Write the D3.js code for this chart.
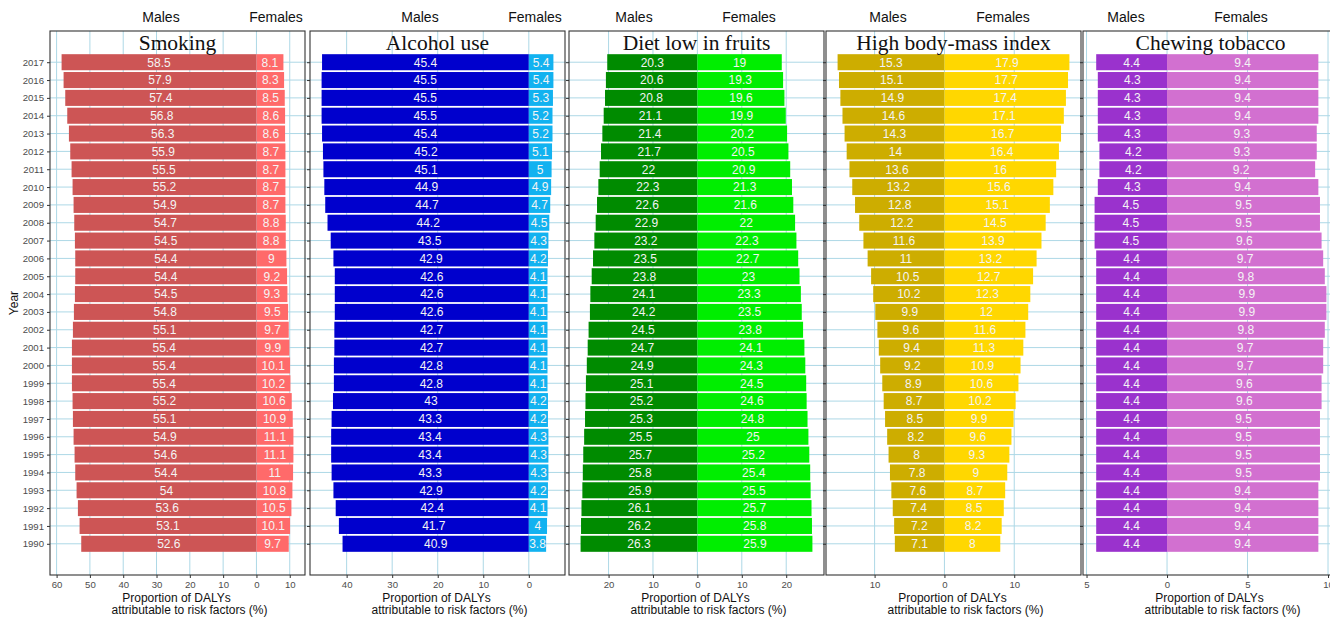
<!DOCTYPE html>
<html>
<head>
<meta charset="utf-8">
<script src="https://cdn.jsdelivr.net/npm/d3@7"></script>
<style>
  body { margin: 0; background: #fff; }
  svg { display: block; font-family: "Liberation Sans", Arial, sans-serif; }
</style>
</head>
<body>
<div id="chart"></div>
<script>
// years, top to bottom
const years = [2017, 2016, 2015, 2014, 2013, 2012, 2011, 2010, 2009, 2008, 2007, 2006, 2005, 2004,
  2003, 2002, 2001, 2000, 1999, 1998, 1997, 1996, 1995, 1994, 1993, 1992, 1991, 1990];

const riskNames = ["Smoking", "Alcohol use", "Diet low in fruits", "High body-mass index", "Chewing tobacco"];

const smokingMales = [58.5, 57.9, 57.4, 56.8, 56.3, 55.9, 55.5, 55.2, 54.9, 54.7, 54.5, 54.4, 54.4, 54.5,
  54.8, 55.1, 55.4, 55.4, 55.4, 55.2, 55.1, 54.9, 54.6, 54.4, 54, 53.6, 53.1, 52.6];
const smokingFemales = [8.1, 8.3, 8.5, 8.6, 8.6, 8.7, 8.7, 8.7, 8.7, 8.8, 8.8, 9, 9.2, 9.3,
  9.5, 9.7, 9.9, 10.1, 10.2, 10.6, 10.9, 11.1, 11.1, 11, 10.8, 10.5, 10.1, 9.7];

const alcoholMales = [45.4, 45.5, 45.5, 45.5, 45.4, 45.2, 45.1, 44.9, 44.7, 44.2, 43.5, 42.9, 42.6, 42.6,
  42.6, 42.7, 42.7, 42.8, 42.8, 43, 43.3, 43.4, 43.4, 43.3, 42.9, 42.4, 41.7, 40.9];
const alcoholFemales = [5.4, 5.4, 5.3, 5.2, 5.2, 5.1, 5, 4.9, 4.7, 4.5, 4.3, 4.2, 4.1, 4.1,
  4.1, 4.1, 4.1, 4.1, 4.1, 4.2, 4.2, 4.3, 4.3, 4.3, 4.2, 4.1, 4, 3.8];

const dietMales = [20.3, 20.6, 20.8, 21.1, 21.4, 21.7, 22, 22.3, 22.6, 22.9, 23.2, 23.5, 23.8, 24.1,
  24.2, 24.5, 24.7, 24.9, 25.1, 25.2, 25.3, 25.5, 25.7, 25.8, 25.9, 26.1, 26.2, 26.3];
const dietFemales = [19, 19.3, 19.6, 19.9, 20.2, 20.5, 20.9, 21.3, 21.6, 22, 22.3, 22.7, 23, 23.3,
  23.5, 23.8, 24.1, 24.3, 24.5, 24.6, 24.8, 25, 25.2, 25.4, 25.5, 25.7, 25.8, 25.9];

const bmiMales = [15.3, 15.1, 14.9, 14.6, 14.3, 14, 13.6, 13.2, 12.8, 12.2, 11.6, 11, 10.5, 10.2,
  9.9, 9.6, 9.4, 9.2, 8.9, 8.7, 8.5, 8.2, 8, 7.8, 7.6, 7.4, 7.2, 7.1];
const bmiFemales = [17.9, 17.7, 17.4, 17.1, 16.7, 16.4, 16, 15.6, 15.1, 14.5, 13.9, 13.2, 12.7, 12.3,
  12, 11.6, 11.3, 10.9, 10.6, 10.2, 9.9, 9.6, 9.3, 9, 8.7, 8.5, 8.2, 8];

const chewingMales = [4.4, 4.3, 4.3, 4.3, 4.3, 4.2, 4.2, 4.3, 4.5, 4.5, 4.5, 4.4, 4.4, 4.4,
  4.4, 4.4, 4.4, 4.4, 4.4, 4.4, 4.4, 4.4, 4.4, 4.4, 4.4, 4.4, 4.4, 4.4];
const chewingFemales = [9.4, 9.4, 9.4, 9.4, 9.3, 9.3, 9.2, 9.4, 9.5, 9.5, 9.6, 9.7, 9.8, 9.9,
  9.9, 9.8, 9.7, 9.7, 9.6, 9.6, 9.5, 9.5, 9.5, 9.5, 9.4, 9.4, 9.4, 9.4];

// x tick values per panel (males negative)
const smokingTicks = [-60, -50, -40, -30, -20, -10, 0, 10];
const alcoholTicks = [-40, -30, -20, -10, 0];
const dietTicks = [-20, -10, 0, 10, 20];
const bmiTicks = [-10, 0, 10];
const chewingTicks = [-5, 0, 5, 10];

const maleColors = ["#cd5555", "#0000cd", "#008b00", "#cdad00", "#9a32cd"];
const femaleColors = ["#ff6a6a", "#12b2f0", "#00ee00", "#ffd700", "#d270d0"];

const males = [smokingMales, alcoholMales, dietMales, bmiMales, chewingMales];
const females = [smokingFemales, alcoholFemales, dietFemales, bmiFemales, chewingFemales];
const ticks = [smokingTicks, alcoholTicks, dietTicks, bmiTicks, chewingTicks];

// layout
const width = 1330, height = 619;
const panelLeft = [50, 310, 569, 826, 1083];
const panelW = 255;
const plotTop = 31, plotBottom = 575;
const sexLabelOffset = [111, 110, 65, 62, 43]; // "Males" centre from panel left

const svg = d3.select("#chart").append("svg")
  .attr("width", width)
  .attr("height", height);

const y = d3.scaleLinear()
  .domain([1988.25, 2018.75])
  .range([plotBottom, plotTop]);
const step = y(2017) - y(2018);
const barH = step * 0.9;

// horizontal grid lines run across all panels
svg.append("g")
  .selectAll("line")
  .data(years)
  .join("line")
  .attr("x1", panelLeft[0])
  .attr("x2", width)
  .attr("y1", d => y(d))
  .attr("y2", d => y(d))
  .attr("stroke", "#add8e6")
  .attr("stroke-width", 1);

riskNames.forEach((name, i) => {
  const left = panelLeft[i];
  const lo = -d3.max(males[i]);
  const hi = d3.max(females[i]);
  const pad = (hi - lo) * 0.05;

  const x = d3.scaleLinear()
    .domain([lo - pad, hi + pad])
    .range([left, left + panelW]);

  const g = svg.append("g");

  // vertical grid lines
  g.selectAll(".vgrid")
    .data(ticks[i])
    .join("line")
    .attr("x1", d => x(d))
    .attr("x2", d => x(d))
    .attr("y1", plotTop)
    .attr("y2", plotBottom)
    .attr("stroke", "#add8e6")
    .attr("stroke-width", 1);

  const rows = years.map((yr, j) => ({ year: yr, m: males[i][j], f: females[i][j] }));

  // male bars
  g.selectAll(".male")
    .data(rows)
    .join("rect")
    .attr("x", d => x(-d.m))
    .attr("y", d => y(d.year) - barH / 2)
    .attr("width", d => x(0) - x(-d.m))
    .attr("height", barH)
    .attr("fill", maleColors[i]);

  // female bars
  g.selectAll(".female")
    .data(rows)
    .join("rect")
    .attr("x", x(0))
    .attr("y", d => y(d.year) - barH / 2)
    .attr("width", d => x(d.f) - x(0))
    .attr("height", barH)
    .attr("fill", femaleColors[i]);

  // value labels
  g.selectAll(".mlab")
    .data(rows)
    .join("text")
    .attr("x", d => x(-d.m / 2))
    .attr("y", d => y(d.year))
    .attr("dy", "0.36em")
    .attr("text-anchor", "middle")
    .attr("font-size", "12px")
    .attr("fill", "#f4f4f4")
    .text(d => d.m);

  g.selectAll(".flab")
    .data(rows)
    .join("text")
    .attr("x", d => x(d.f / 2))
    .attr("y", d => y(d.year))
    .attr("dy", "0.36em")
    .attr("text-anchor", "middle")
    .attr("font-size", "12px")
    .attr("fill", "#f4f4f4")
    .text(d => d.f);

  // panel border
  g.append("rect")
    .attr("x", left)
    .attr("y", plotTop)
    .attr("width", panelW)
    .attr("height", plotBottom - plotTop)
    .attr("fill", "none")
    .attr("stroke", "#333")
    .attr("stroke-width", 1.1);

  // y axis (labels only on first panel)
  const yAxis = g.append("g")
    .attr("transform", `translate(${left},0)`)
    .call(d3.axisLeft(y).tickValues(years).tickSize(3).tickPadding(3)
      .tickFormat(i === 0 ? d3.format("d") : () => ""));
  yAxis.select(".domain").remove();
  yAxis.selectAll("line").attr("stroke", "#333");
  yAxis.selectAll("text")
    .attr("fill", "#4d4d4d")
    .attr("font-size", "9.6px")
    .attr("font-family", "Liberation Sans, Arial, sans-serif");

  // x axis
  const xAxis = g.append("g")
    .attr("transform", `translate(0,${plotBottom})`)
    .call(d3.axisBottom(x).tickValues(ticks[i]).tickSize(3).tickPadding(3)
      .tickFormat(d => Math.abs(d)));
  xAxis.select(".domain").remove();
  xAxis.selectAll("line").attr("stroke", "#333");
  xAxis.selectAll("text")
    .attr("fill", "#4d4d4d")
    .attr("font-size", "9.6px")
    .attr("font-family", "Liberation Sans, Arial, sans-serif");

  // x axis title
  g.append("text")
    .attr("x", left + panelW / 2 - 1)
    .attr("y", 602)
    .attr("text-anchor", "middle")
    .attr("font-size", "12px")
    .attr("fill", "#111")
    .text("Proportion of DALYs");
  g.append("text")
    .attr("x", left + panelW / 2 + 12)
    .attr("y", 614)
    .attr("text-anchor", "middle")
    .attr("font-size", "12px")
    .attr("fill", "#111")
    .text("attributable to risk factors (%)");

  // panel title
  g.append("text")
    .attr("x", left + panelW / 2)
    .attr("y", 50)
    .attr("text-anchor", "middle")
    .attr("font-family", "Liberation Serif, Times New Roman, serif")
    .attr("font-size", "21.5px")
    .attr("fill", "#111")
    .text(name);

  // Males / Females headers
  g.append("text")
    .attr("x", left + sexLabelOffset[i])
    .attr("y", 22)
    .attr("text-anchor", "middle")
    .attr("font-size", "14px")
    .attr("fill", "#111")
    .text("Males");
  g.append("text")
    .attr("x", left + sexLabelOffset[i] + 115)
    .attr("y", 22)
    .attr("text-anchor", "middle")
    .attr("font-size", "14px")
    .attr("fill", "#111")
    .text("Females");
});

// y axis title
svg.append("text")
  .attr("transform", `translate(18,${(plotTop + plotBottom) / 2}) rotate(-90)`)
  .attr("text-anchor", "middle")
  .attr("font-size", "12px")
  .attr("fill", "#111")
  .text("Year");
</script>
</body>
</html>
